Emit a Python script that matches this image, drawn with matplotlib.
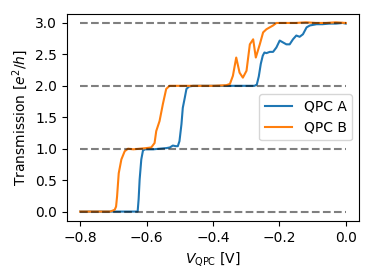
import matplotlib
matplotlib.use("Agg")
import matplotlib.pyplot as plt

# QPC A trace (gate voltage in V, transmission in e^2/h)
v_a = [-0.80, -0.70, -0.64, -0.627, -0.624, -0.621, -0.616, -0.611, -0.605,
       -0.58, -0.56, -0.54, -0.53, -0.521, -0.512, -0.506, -0.501, -0.495,
       -0.491, -0.485, -0.480, -0.472, -0.46, -0.42, -0.38, -0.34, -0.30,
       -0.275, -0.268, -0.262, -0.256, -0.250, -0.245, -0.239, -0.229, -0.219,
       -0.209, -0.199, -0.189, -0.179, -0.169, -0.159, -0.149, -0.139, -0.129,
       -0.118, -0.108, -0.098, -0.088, -0.07, -0.05, -0.03, -0.01, 0.0]
t_a = [0.0, 0.0, 0.0, 0.0, 0.2, 0.51, 0.83, 0.97, 0.99,
       0.99, 1.0, 1.01, 1.02, 1.05, 1.04, 1.04, 1.12, 1.39,
       1.65, 1.81, 1.95, 1.99, 2.0, 2.0, 2.0, 2.0, 2.0,
       2.0, 2.02, 2.15, 2.35, 2.48, 2.53, 2.52, 2.54, 2.54,
       2.61, 2.72, 2.69, 2.66, 2.66, 2.74, 2.80, 2.78, 2.82,
       2.93, 2.96, 2.97, 2.98, 2.98, 2.99, 2.99, 3.0, 2.99]

# QPC B trace
v_b = [-0.80, -0.75, -0.71, -0.70, -0.696, -0.692, -0.689, -0.684, -0.676,
       -0.666, -0.656, -0.64, -0.62, -0.60, -0.586, -0.576, -0.571, -0.561,
       -0.551, -0.541, -0.531, -0.50, -0.45, -0.40, -0.36, -0.349, -0.340,
       -0.330, -0.320, -0.310, -0.299, -0.289, -0.279, -0.271, -0.259, -0.249,
       -0.239, -0.229, -0.219, -0.209, -0.18, -0.15, -0.12, -0.09, -0.06,
       -0.03, 0.0]
t_b = [0.0, 0.0, 0.0, 0.02, 0.03, 0.08, 0.24, 0.61, 0.83,
       0.96, 1.0, 0.99, 1.0, 1.01, 1.02, 1.09, 1.28, 1.44,
       1.71, 1.95, 2.0, 2.0, 2.0, 2.0, 2.01, 2.03, 2.16,
       2.45, 2.21, 2.13, 2.24, 2.66, 2.74, 2.45, 2.66, 2.85,
       2.90, 2.93, 2.96, 3.0, 3.0, 3.0, 3.01, 3.0, 3.0,
       3.01, 3.0]

plateaus = [0, 1, 2, 3]

fig = plt.figure(figsize=(3.74, 2.8), dpi=100)
ax = fig.add_axes([0.179, 0.2107, 0.781, 0.741])

ax.plot(v_a, t_a, label="QPC A", color="tab:blue")
ax.plot(v_b, t_b, label="QPC B", color="tab:orange")
for p in plateaus:
    ax.plot([-0.8, 0.0], [p, p], "--", color="k", alpha=0.5)

ax.set_xlim(-0.84, 0.04)
ax.set_ylim(-0.15, 3.15)
ax.set_xticks([-0.8, -0.6, -0.4, -0.2, 0.0])
ax.set_yticks([0.0, 0.5, 1.0, 1.5, 2.0, 2.5, 3.0])
ax.set_xlabel(r"$V_\mathrm{QPC}$ [V]")
ax.set_ylabel(r"Transmission [$e^2/h$]")
ax.legend(loc="center right")

fig.savefig("out.png", dpi=100)
